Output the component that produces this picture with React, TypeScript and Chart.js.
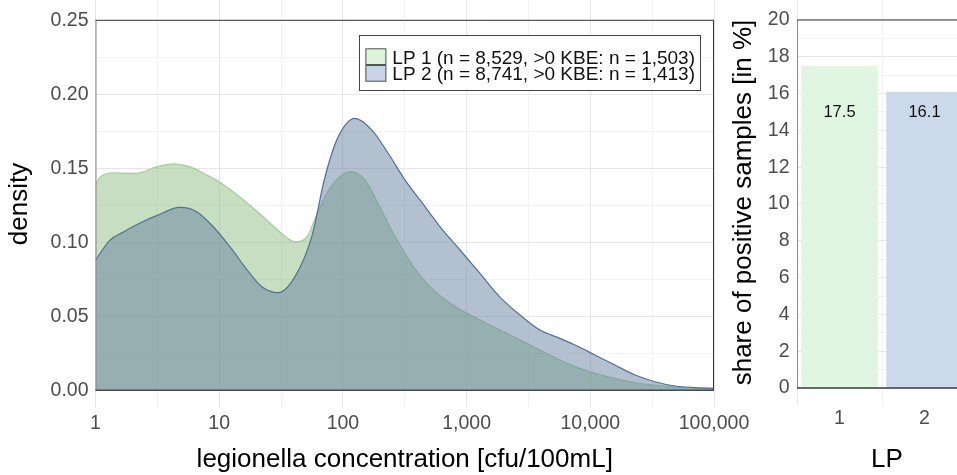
import React, { useEffect, useRef } from 'react';
import { Chart, registerables } from 'chart.js';

Chart.register(...registerables);

const FONT = '"Liberation Sans", Arial, Helvetica, sans-serif';

// ---- density chart data ----
const legendLabels = [
  'LP 1 (n = 8,529, >0 KBE: n = 1,503)',
  'LP 2 (n = 8,741, >0 KBE: n = 1,413)',
];
const lp1Concentration = [1, 1.09, 1.39, 2.15, 3.12, 4.26, 5.81, 7.93, 10.8, 17.7, 23.5, 30, 38.6, 43.6, 52.5, 59.5, 71.7, 86.3, 114, 151, 193, 248, 318, 371, 506, 734, 1283, 2244, 3920, 5690, 7520, 10900, 15800, 23000, 33300, 48400, 70300, 100000];
const lp1Density = [0.139, 0.144, 0.147, 0.1466, 0.151, 0.153, 0.151, 0.1455, 0.139, 0.125, 0.116, 0.108, 0.101, 0.1004, 0.105, 0.116, 0.131, 0.141, 0.1477, 0.142, 0.126, 0.108, 0.0926, 0.0835, 0.07, 0.0588, 0.0475, 0.0374, 0.0272, 0.0205, 0.016, 0.0115, 0.0081, 0.0051, 0.0034, 0.0022, 0.0016, 0.0013];
const lp2Concentration = [1, 1.31, 1.68, 2.29, 3.12, 4.82, 6.58, 8.96, 12.2, 17.7, 22.1, 30, 41, 56, 71.7, 91.8, 125, 171, 233, 318, 420, 610, 885, 1283, 1862, 2700, 3920, 5690, 7520, 10900, 15800, 23000, 33300, 48400, 70300, 100000];
const lp2Density = [0.088, 0.1015, 0.107, 0.113, 0.118, 0.1236, 0.1207, 0.1105, 0.097, 0.079, 0.07, 0.066, 0.0768, 0.1038, 0.1443, 0.1714, 0.1838, 0.176, 0.16, 0.142, 0.1286, 0.1105, 0.0948, 0.079, 0.063, 0.0509, 0.0407, 0.0351, 0.0306, 0.0239, 0.0171, 0.0103, 0.0058, 0.0029, 0.0018, 0.0013];
const xTickValues = [1, 10, 100, 1000, 10000, 100000];
const xTickLabels = ['1', '10', '100', '1,000', '10,000', '100,000'];
const yTickValues = [0, 0.05, 0.1, 0.15, 0.2, 0.25];
const yTickLabels = ['0.00', '0.05', '0.10', '0.15', '0.20', '0.25'];

// ---- bar chart data ----
const lpCategories = [1, 2];
const lpCategoryLabels = ['1', '2'];
const positiveShare = [17.5, 16.1];
const shareTickValues = [0, 2, 4, 6, 8, 10, 12, 14, 16, 18, 20];
const shareTickLabels = ['0', '2', '4', '6', '8', '10', '12', '14', '16', '18', '20'];
const barLabelLevel = 15;

// ---- styles ----
const GRID_MAJOR = '#e6e6e6';
const GRID_MINOR = '#f2f2f2';
const TICK_COLOR = '#4d4d4d';
const GREEN_FILL = 'rgba(143, 190, 131, 0.5)';
const GREEN_LINE = '#a3d09a';
const BLUE_FILL = 'rgba(102, 130, 160, 0.5)';
const BLUE_LINE = '#4f7298';
const KEY_COLORS = ['#ddf3da', '#c9d5e6'];
const BAR_COLORS = ['#e1f6e0', '#ccd9ea'];

function withMinors(majors: number[], log: boolean): number[] {
  const out: number[] = [];
  majors.forEach((v, i) => {
    out.push(v);
    if (i < majors.length - 1) {
      const n = majors[i + 1];
      out.push(log ? Math.sqrt(v * n) : (v + n) / 2);
    }
  });
  return out;
}

const noPad = (s: any) => {
  s.paddingTop = 0;
  s.paddingBottom = 0;
  s.paddingLeft = 0;
  s.paddingRight = 0;
};

const densityPlugins = [
  {
    id: 'densityFrame',
    afterDatasetsDraw(chart: any) {
      const { ctx, chartArea, scales } = chart;
      const x = scales.x;
      const y = scales.y;
      const top = y.getPixelForValue(yTickValues[yTickValues.length - 1]);
      const bottom = y.getPixelForValue(0);
      const left = chartArea.left;
      const right = x.getPixelForValue(xTickValues[xTickValues.length - 1]);
      ctx.save();
      ctx.lineWidth = 1;
      ctx.strokeStyle = '#8a8a8a';
      ctx.beginPath();
      ctx.moveTo(left + 0.5, top);
      ctx.lineTo(left + 0.5, bottom);
      ctx.stroke();
      ctx.strokeStyle = '#333';
      ctx.beginPath();
      ctx.moveTo(left, top);
      ctx.lineTo(right, top);
      ctx.moveTo(right - 0.5, top);
      ctx.lineTo(right - 0.5, bottom);
      ctx.stroke();
      ctx.strokeStyle = '#4a4a4a';
      ctx.lineWidth = 1.6;
      ctx.beginPath();
      ctx.moveTo(left, bottom);
      ctx.lineTo(right, bottom);
      ctx.stroke();
      ctx.restore();
    },
    afterDraw(chart: any) {
      const { ctx, chartArea, scales } = chart;
      const y = scales.y;
      ctx.save();
      ctx.font = `19px ${FONT}`;
      const labels = chart.data.datasets.map((d: any) => d.label);
      const textW = Math.max(...labels.map((l: string) => ctx.measureText(l).width));
      const boxW = 6 + 21 + 6 + textW + 5;
      const boxH = 55;
      const boxRight = chartArea.right - 14;
      const boxLeft = boxRight - boxW;
      const boxTop = y.getPixelForValue(yTickValues[yTickValues.length - 1]) + 15;
      ctx.fillStyle = '#ffffff';
      ctx.fillRect(boxLeft, boxTop, boxW, boxH);
      ctx.strokeStyle = '#444';
      ctx.lineWidth = 1;
      ctx.strokeRect(Math.round(boxLeft) + 0.5, Math.round(boxTop) + 0.5, Math.round(boxW), boxH);
      const rowH = 16.7;
      labels.forEach((l: string, i: number) => {
        const ky = boxTop + 13 + i * rowH;
        ctx.fillStyle = KEY_COLORS[i];
        ctx.fillRect(boxLeft + 6, ky, 21, rowH);
        ctx.strokeStyle = '#555';
        ctx.strokeRect(boxLeft + 6.5, ky + 0.5, 20, rowH - 1);
        ctx.fillStyle = '#111';
        ctx.textAlign = 'left';
        ctx.textBaseline = 'alphabetic';
        ctx.fillText(l, boxLeft + 33, boxTop + 28.3 + i * rowH);
      });
      ctx.restore();
    },
  },
];

const barPlugins = [
  {
    id: 'barMinorGrid',
    beforeDatasetsDraw(chart: any) {
      const { ctx, chartArea, scales } = chart;
      const x = scales.x;
      ctx.save();
      ctx.strokeStyle = GRID_MINOR;
      ctx.lineWidth = 1;
      ctx.beginPath();
      for (let i = 0; i < lpCategories.length - 1; i++) {
        const px = Math.round(x.getPixelForValue((lpCategories[i] + lpCategories[i + 1]) / 2)) + 0.5;
        ctx.moveTo(px, chartArea.top);
        ctx.lineTo(px, chartArea.bottom);
      }
      ctx.stroke();
      ctx.restore();
    },
  },
  {
    id: 'barFrame',
    afterDatasetsDraw(chart: any) {
      const { ctx, chartArea, scales } = chart;
      const y = scales.y;
      const top = y.getPixelForValue(shareTickValues[shareTickValues.length - 1]);
      const bottom = y.getPixelForValue(0);
      const left = chartArea.left;
      const right = chartArea.right;
      ctx.save();
      ctx.lineWidth = 1;
      ctx.strokeStyle = '#8a8a8a';
      ctx.beginPath();
      ctx.moveTo(left + 0.5, top);
      ctx.lineTo(left + 0.5, bottom);
      ctx.stroke();
      ctx.strokeStyle = '#333';
      ctx.beginPath();
      ctx.moveTo(left, top);
      ctx.lineTo(right, top);
      ctx.stroke();
      ctx.strokeStyle = '#3a3a3a';
      ctx.lineWidth = 1.6;
      ctx.beginPath();
      ctx.moveTo(left, bottom);
      ctx.lineTo(right, bottom);
      ctx.stroke();
      // value labels
      const meta = chart.getDatasetMeta(0);
      ctx.font = `16.5px ${FONT}`;
      ctx.fillStyle = '#111';
      ctx.textAlign = 'center';
      ctx.textBaseline = 'middle';
      meta.data.forEach((bar: any, i: number) => {
        ctx.fillText(positiveShare[i].toFixed(1), bar.x, y.getPixelForValue(barLabelLevel));
      });
      ctx.restore();
    },
  },
];

function DensityChart() {
  const ref = useRef<HTMLCanvasElement>(null);
  useEffect(() => {
    const xGrid = withMinors(xTickValues, true);
    const yGrid = withMinors(yTickValues, false);
    const chart = new Chart(ref.current as HTMLCanvasElement, {
      type: 'line',
      data: {
        datasets: [
          {
            label: legendLabels[0],
            data: lp1Concentration.map((x, i) => ({ x, y: lp1Density[i] })),
            fill: 'origin',
            backgroundColor: GREEN_FILL,
            borderColor: GREEN_LINE,
            borderWidth: 1.2,
            pointRadius: 0,
            cubicInterpolationMode: 'monotone',
            order: 2,
          },
          {
            label: legendLabels[1],
            data: lp2Concentration.map((x, i) => ({ x, y: lp2Density[i] })),
            fill: 'origin',
            backgroundColor: BLUE_FILL,
            borderColor: BLUE_LINE,
            borderWidth: 1.2,
            pointRadius: 0,
            cubicInterpolationMode: 'monotone',
            order: 1,
          },
        ],
      },
      options: {
        responsive: false,
        animation: false,
        devicePixelRatio: 1,
        layout: { padding: { left: 0, right: 46, top: 0, bottom: 0 } },
        plugins: { legend: { display: false }, tooltip: { enabled: false } },
        scales: {
          x: {
            type: 'logarithmic',
            min: xTickValues[0],
            max: xTickValues[xTickValues.length - 1],
            afterBuildTicks: (s: any) => {
              s.ticks = xGrid.map((v) => ({ value: v }));
            },
            afterFit: (s: any) => {
              s.height = 67;
              noPad(s);
            },
            ticks: {
              autoSkip: false,
              maxRotation: 0,
              minRotation: 0,
              padding: 4.3,
              color: TICK_COLOR,
              font: { family: FONT, size: 19.5 },
              callback: (v: any) => {
                const i = xTickValues.indexOf(Number(v));
                return i >= 0 ? xTickLabels[i] : '';
              },
            },
            grid: {
              drawTicks: false,
              color: (c: any) => (c.tick && xTickValues.indexOf(c.tick.value) >= 0 ? GRID_MAJOR : GRID_MINOR),
              lineWidth: 1,
            },
            border: { display: false },
            title: {
              display: true,
              text: 'legionella concentration [cfu/100mL]',
              color: '#000',
              font: { family: FONT, size: 26 },
              padding: { top: 0, bottom: 0 },
            },
          },
          y: {
            type: 'linear',
            min: -17.7 / 1480,
            max: 0.25 + 20.3 / 1480,
            afterBuildTicks: (s: any) => {
              s.ticks = yGrid.map((v) => ({ value: v }));
            },
            afterFit: (s: any) => {
              s.width = 95.5;
              noPad(s);
            },
            ticks: {
              autoSkip: false,
              padding: 7,
              color: TICK_COLOR,
              font: { family: FONT, size: 19.5 },
              callback: (v: any) => {
                const i = yTickValues.findIndex((t) => Math.abs(t - Number(v)) < 1e-9);
                return i >= 0 ? yTickLabels[i] : '';
              },
            },
            grid: {
              drawTicks: false,
              color: (c: any) =>
                c.tick && yTickValues.some((t) => Math.abs(t - c.tick.value) < 1e-9) ? GRID_MAJOR : GRID_MINOR,
              lineWidth: 1,
            },
            border: { display: false },
            title: {
              display: true,
              text: 'density',
              color: '#000',
              font: { family: FONT, size: 26 },
              padding: { top: 4.4, bottom: 0 },
            },
          },
        },
      },
      plugins: densityPlugins,
    } as any);
    return () => chart.destroy();
  }, []);
  return (
    <canvas
      ref={ref}
      width={760}
      height={475}
      style={{ position: 'absolute', left: 0, top: 0, width: 760, height: 475 }}
    />
  );
}

function ShareChart() {
  const ref = useRef<HTMLCanvasElement>(null);
  useEffect(() => {
    const yGrid = withMinors(shareTickValues, false);
    const chart = new Chart(ref.current as HTMLCanvasElement, {
      type: 'bar',
      data: {
        datasets: [
          {
            label: 'share of positive samples',
            data: lpCategories.map((x, i) => ({ x, y: positiveShare[i] })),
            backgroundColor: BAR_COLORS,
            borderWidth: 0,
            barPercentage: 0.9,
            categoryPercentage: 1,
          },
        ],
      },
      options: {
        responsive: false,
        animation: false,
        devicePixelRatio: 1,
        layout: { padding: 0 },
        plugins: { legend: { display: false }, tooltip: { enabled: false } },
        scales: {
          x: {
            type: 'linear',
            offset: false,
            min: lpCategories[0] - 0.5,
            max: lpCategories[0] - 0.5 + 180 / 85,
            afterBuildTicks: (s: any) => {
              s.ticks = lpCategories.map((v) => ({ value: v }));
            },
            afterFit: (s: any) => {
              s.height = 70;
              noPad(s);
            },
            ticks: {
              autoSkip: false,
              maxRotation: 0,
              minRotation: 0,
              padding: 2.3,
              color: TICK_COLOR,
              font: { family: FONT, size: 19.5 },
              callback: (v: any) => {
                const i = lpCategories.indexOf(Number(v));
                return i >= 0 ? lpCategoryLabels[i] : '';
              },
            },
            grid: {
              drawTicks: false,
              color: GRID_MAJOR,
              lineWidth: 1,
            },
            border: { display: false },
            title: {
              display: true,
              text: 'LP',
              color: '#000',
              font: { family: FONT, size: 26 },
              padding: { top: 0, bottom: 0 },
            },
          },
          y: {
            type: 'linear',
            min: -17 / 18.4,
            max: 20 + 20 / 18.4,
            afterBuildTicks: (s: any) => {
              s.ticks = yGrid.map((v) => ({ value: v }));
            },
            afterFit: (s: any) => {
              s.width = 75;
              noPad(s);
            },
            ticks: {
              autoSkip: false,
              padding: 7.5,
              color: TICK_COLOR,
              font: { family: FONT, size: 19.5 },
              callback: (v: any) => {
                const i = shareTickValues.indexOf(Number(v));
                return i >= 0 ? shareTickLabels[i] : '';
              },
            },
            grid: {
              drawTicks: false,
              color: (c: any) => (c.tick && shareTickValues.indexOf(c.tick.value) >= 0 ? GRID_MAJOR : GRID_MINOR),
              lineWidth: 1,
            },
            border: { display: false },
            title: {
              display: true,
              text: 'share of positive samples [in %]',
              color: '#000',
              font: { family: FONT, size: 26 },
              padding: { top: 6.4, bottom: 0 },
            },
          },
        },
      },
      plugins: barPlugins,
    } as any);
    return () => chart.destroy();
  }, []);
  return (
    <canvas
      ref={ref}
      width={255}
      height={475}
      style={{ position: 'absolute', left: 722, top: 0, width: 255, height: 475 }}
    />
  );
}

export default function App() {
  return (
    <div
      style={{
        position: 'fixed',
        left: 0,
        top: 0,
        width: 957,
        height: 475,
        overflow: 'hidden',
        background: '#ffffff',
      }}
    >
      <DensityChart />
      <ShareChart />
    </div>
  );
}
